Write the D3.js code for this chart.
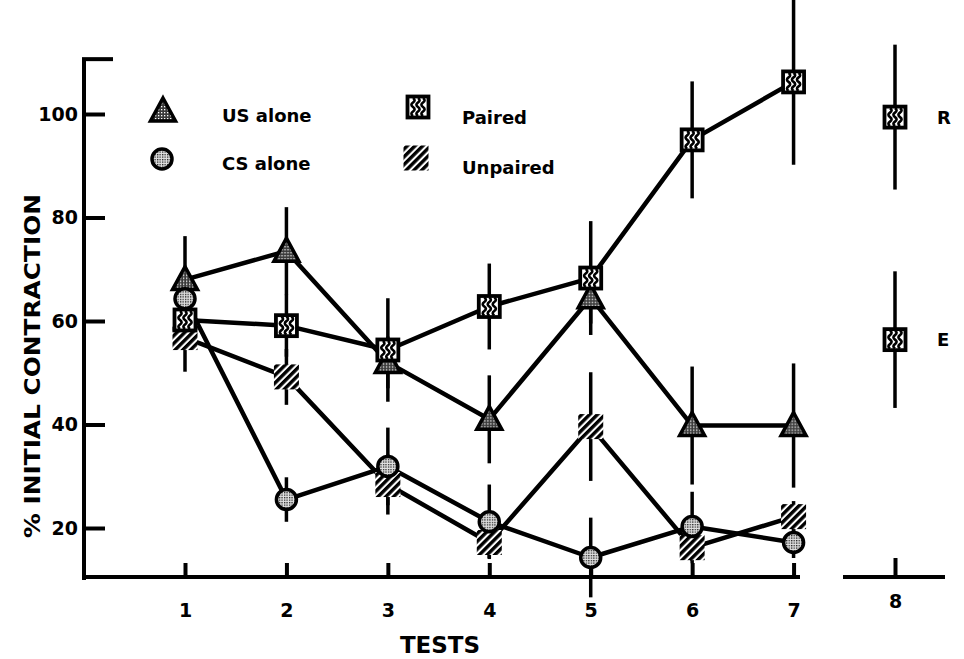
<!DOCTYPE html>
<html>
<head>
<meta charset="utf-8">
<script src="https://cdn.jsdelivr.net/npm/d3@7"></script>
<style>
  body { margin: 0; background: #fff; }
  text { font-family: "DejaVu Sans", sans-serif; font-weight: bold; fill: #000; }
</style>
</head>
<body>
<div id="content"></div>
<script>
// data
let tests = [1, 2, 3, 4, 5, 6, 7];
let usAlone = [68, 73.5, 52, 41, 64.5, 39.8, 39.8];
let usAloneErr = [8.4, 8.5, 5, 8.5, 5, 11.4, 12];
let csAlone = [64.3, 25.5, 31.9, 21.2, 14.3, 20.3, 17.2];
let csAloneErr = [3, 4.3, 7.5, 7.2, 7.7, 6.7, 3];
let paired = [60.2, 59.1, 54.4, 62.8, 68.3, 95, 106.2];
let pairedErr = [3, 6, 10, 8.3, 11, 11.3, 16];
let unpaired = [56.8, 49.2, 28.4, 17.2, 39.6, 16.2, 22.2];
let unpairedErr = [6.6, 5.4, 5.8, 3, 10.5, 3, 3];
let retestLabels = ["R", "E"];
let retest = [99.4, 56.4];
let retestErr = [14, 13.2];
let yTicks = [20, 40, 60, 80, 100];

const width = 964, height = 659;

let svg = d3.select("#content")
    .append("svg")
    .attr("width", width)
    .attr("height", height);

const x = d3.scaleLinear().domain([1, 8]).range([185, 895]);
const y = d3.scaleLinear().domain([20, 100]).range([528, 114]);

// patterns
let defs = svg.append("defs");

let dotsDark = defs.append("pattern")
    .attr("id", "dots-dark")
    .attr("patternUnits", "userSpaceOnUse")
    .attr("width", 3).attr("height", 3);
dotsDark.append("rect").attr("width", 3).attr("height", 3).attr("fill", "#3a3a3a");
dotsDark.append("rect").attr("x", 1).attr("y", 1).attr("width", 1.3).attr("height", 1.3).attr("fill", "#fff");

let dotsLight = defs.append("pattern")
    .attr("id", "dots-light")
    .attr("patternUnits", "userSpaceOnUse")
    .attr("width", 2.5).attr("height", 2.5);
dotsLight.append("rect").attr("width", 2.5).attr("height", 2.5).attr("fill", "#e0e0e0");
dotsLight.append("rect").attr("width", 1.3).attr("height", 1.3).attr("fill", "#222");

let hatch = defs.append("pattern")
    .attr("id", "hatch")
    .attr("patternUnits", "userSpaceOnUse")
    .attr("width", 5.5).attr("height", 5.5)
    .attr("patternTransform", "rotate(45)");
hatch.append("rect").attr("width", 5.5).attr("height", 5.5).attr("fill", "#fff");
hatch.append("rect").attr("width", 3.4).attr("height", 5.5).attr("fill", "#000");

// axes
const axisStroke = 4;

let yAxis = svg.append("g")
    .attr("transform", "translate(84,0)")
    .call(d3.axisLeft(y)
        .tickValues(yTicks)
        .tickSize(-21)
        .tickSizeOuter(0)
        .tickPadding(6));
yAxis.select(".domain").remove();

let xAxis = svg.append("g")
    .attr("transform", "translate(0,577)")
    .call(d3.axisBottom(x)
        .tickValues(tests)
        .tickFormat(d3.format("d"))
        .tickSize(-14)
        .tickSizeOuter(0)
        .tickPadding(27));
xAxis.select(".domain").remove();

let xAxis8 = svg.append("g")
    .attr("transform", "translate(0,577)")
    .call(d3.axisBottom(x)
        .tickValues([8])
        .tickFormat(d3.format("d"))
        .tickSize(-19)
        .tickSizeOuter(0)
        .tickPadding(18));
xAxis8.select(".domain").remove();

svg.selectAll(".tick line")
    .attr("stroke", "#000")
    .attr("stroke-width", axisStroke);
svg.selectAll(".tick text")
    .attr("font-size", 19)
    .attr("font-family", "DejaVu Sans")
    .attr("font-weight", "bold")
    .attr("fill", "#000");

// axis lines
svg.append("line")
    .attr("x1", 84).attr("x2", 84)
    .attr("y1", y(110.6)).attr("y2", 580)
    .attr("stroke", "#000").attr("stroke-width", axisStroke);
svg.append("line")
    .attr("x1", 82).attr("x2", 113)
    .attr("y1", y(110.6)).attr("y2", y(110.6))
    .attr("stroke", "#000").attr("stroke-width", axisStroke);
svg.append("line")
    .attr("x1", 82).attr("x2", 800)
    .attr("y1", 577).attr("y2", 577)
    .attr("stroke", "#000").attr("stroke-width", axisStroke);
svg.append("line")
    .attr("x1", 843).attr("x2", 945)
    .attr("y1", 577).attr("y2", 577)
    .attr("stroke", "#000").attr("stroke-width", axisStroke);

// axis titles
svg.append("text")
    .attr("x", 440).attr("y", 653)
    .attr("text-anchor", "middle")
    .attr("font-size", 23)
    .text("TESTS");

svg.append("text")
    .attr("transform", "translate(40,366) rotate(-90)")
    .attr("text-anchor", "middle")
    .attr("font-size", 22)
    .attr("textLength", 344)
    .attr("lengthAdjust", "spacingAndGlyphs")
    .text("% INITIAL CONTRACTION");

// series
let series = [
    { key: "US alone", values: usAlone, err: usAloneErr, shape: "triangle" },
    { key: "Unpaired", values: unpaired, err: unpairedErr, shape: "hatch" },
    { key: "CS alone", values: csAlone, err: csAloneErr, shape: "circle" },
    { key: "Paired", values: paired, err: pairedErr, shape: "wave" }
];

let line = d3.line()
    .x(function(d, i) { return x(tests[i]); })
    .y(function(d) { return y(d); });

let lineG = svg.append("g");
series.forEach(function(s) {
    lineG.append("path")
        .attr("d", line(s.values))
        .attr("fill", "none")
        .attr("stroke", "#000")
        .attr("stroke-width", 4.5)
        .attr("stroke-linejoin", "round");
});

let errG = svg.append("g");
series.forEach(function(s) {
    errG.selectAll(null)
        .data(s.values)
        .enter()
        .append("line")
        .attr("x1", function(d, i) { return x(tests[i]); })
        .attr("x2", function(d, i) { return x(tests[i]); })
        .attr("y1", function(d, i) { return y(d + s.err[i]); })
        .attr("y2", function(d, i) { return y(d - s.err[i]); })
        .attr("stroke", "#000")
        .attr("stroke-width", 3.5);
});
errG.selectAll(null)
    .data(retest)
    .enter()
    .append("line")
    .attr("x1", x(8)).attr("x2", x(8))
    .attr("y1", function(d, i) { return y(d + retestErr[i]); })
    .attr("y2", function(d, i) { return y(d - retestErr[i]); })
    .attr("stroke", "#000")
    .attr("stroke-width", 3.5);

function drawMarker(g, shape)
{
    if (shape == "triangle")
    {
        g.append("path")
            .attr("d", "M0,-13 L12.5,10 L-12.5,10 Z")
            .attr("fill", "url(#dots-dark)")
            .attr("stroke", "#000")
            .attr("stroke-width", 3.5)
            .attr("stroke-linejoin", "miter");
    }
    else if (shape == "circle")
    {
        g.append("circle")
            .attr("r", 10)
            .attr("fill", "url(#dots-light)")
            .attr("stroke", "#000")
            .attr("stroke-width", 3.5);
    }
    else if (shape == "hatch")
    {
        g.append("rect")
            .attr("x", -12.5).attr("y", -12.5)
            .attr("width", 25).attr("height", 25)
            .attr("fill", "url(#hatch)");
    }
    else
    {
        g.append("rect")
            .attr("x", -10.5).attr("y", -10.5)
            .attr("width", 21).attr("height", 21)
            .attr("fill", "#fff")
            .attr("stroke", "#000")
            .attr("stroke-width", 3.8);
        [-5, 0, 5].forEach(function(dx) {
            g.append("path")
                .attr("d", "M" + dx + ",-9 q3.2,2.2 0,4.5 q-3.2,2.2 0,4.5 q3.2,2.2 0,4.5 q-3.2,2.2 0,4.5")
                .attr("fill", "none")
                .attr("stroke", "#000")
                .attr("stroke-width", 2.6);
        });
    }
}

let markG = svg.append("g");
series.forEach(function(s) {
    s.values.forEach(function(v, i) {
        let g = markG.append("g")
            .attr("transform", "translate(" + x(tests[i]) + "," + y(v) + ")");
        drawMarker(g, s.shape);
    });
});

// retention / extinction points at test 8
retest.forEach(function(v, i) {
    let g = markG.append("g")
        .attr("transform", "translate(" + x(8) + "," + y(v) + ")");
    drawMarker(g, "wave");
    svg.append("text")
        .attr("x", 937).attr("y", y(v) + 6.5)
        .attr("font-size", 18)
        .text(retestLabels[i]);
});

// legend
let legendItems = [
    { key: "US alone", shape: "triangle", mx: 163, my: 111, tx: 222, ty: 121.5 },
    { key: "CS alone", shape: "circle", mx: 162, my: 159, tx: 222, ty: 169.5 },
    { key: "Paired", shape: "wave", mx: 418, my: 107, tx: 462, ty: 123.5 },
    { key: "Unpaired", shape: "hatch", mx: 416, my: 158, tx: 462, ty: 173.5 }
];

let legend = svg.append("g").attr("class", "legend");
legendItems.forEach(function(d) {
    let g = legend.append("g")
        .attr("transform", "translate(" + d.mx + "," + d.my + ")");
    drawMarker(g, d.shape);
    legend.append("text")
        .attr("x", d.tx).attr("y", d.ty)
        .attr("font-size", 18)
        .text(d.key);
});
</script>
</body>
</html>
